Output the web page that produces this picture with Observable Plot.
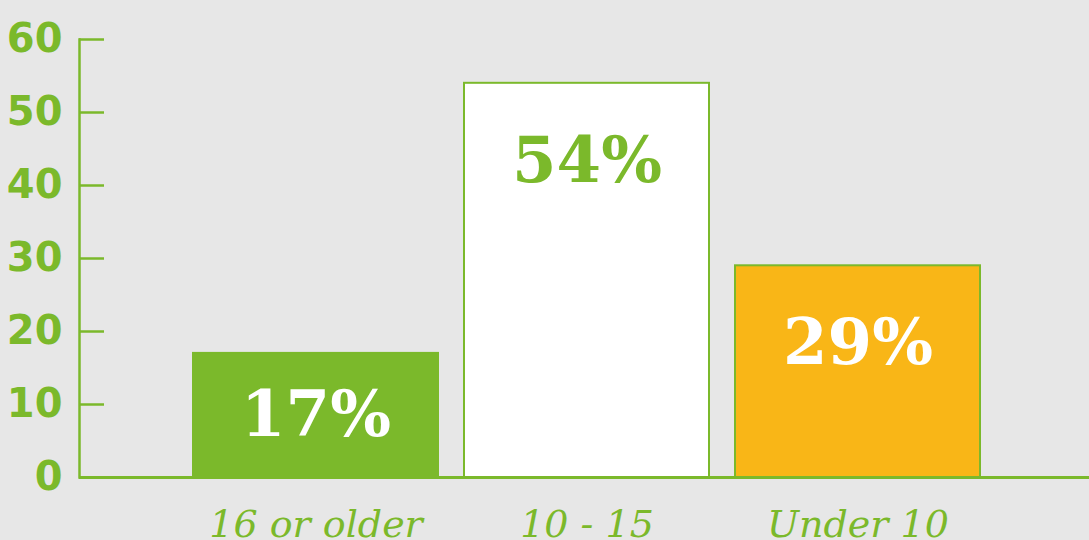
<!DOCTYPE html>
<html>
<head>
<meta charset="utf-8">
<script src="https://cdn.jsdelivr.net/npm/d3@7"></script>
<script src="https://cdn.jsdelivr.net/npm/@observablehq/plot@0.6"></script>
<style>
  html, body { margin: 0; padding: 0; background: #e7e7e7; overflow: hidden; }
  #chart { width: 1089px; height: 540px; }
</style>
</head>
<body>
<div id="chart"></div>
<script>
const categories = ["16 or older", "10 - 15", "Under 10"];
const values = [17, 54, 29];
const yTicks = [0, 10, 20, 30, 40, 50, 60];

const green = "#7bb92b";
const orange = "#f9b617";
const barFills = [green, "#ffffff", orange];

const data = categories.map((c, i) => ({cat: c, value: values[i]}));

const W = 1089, H = 540;
const mLeft = 79, mTop = 39, mBottom = 63;

const chart = Plot.plot({
  width: W,
  height: H,
  marginLeft: mLeft,
  marginRight: 0,
  marginTop: mTop,
  marginBottom: mBottom,
  style: {background: "#e7e7e7", fontFamily: "DejaVu Sans"},
  x: {domain: categories, range: [180, 993], paddingInner: 0.095, paddingOuter: 0.0475, label: null},
  y: {domain: [0, 60], label: null},
  color: {type: "ordinal", domain: categories, range: barFills},
  marks: [
    Plot.barY(data, {x: "cat", y: "value", fill: "cat", stroke: green, strokeWidth: 2}),
    Plot.frame({anchor: "left", stroke: green, strokeWidth: 2.5}),
    Plot.ruleY(yTicks.filter(t => t > 0), {stroke: green, strokeWidth: 2.5, insetRight: W - mLeft - 25}),
    Plot.ruleY([0], {stroke: green, strokeWidth: 3}),
    Plot.axisY({ticks: yTicks, tickSize: 0, tickPadding: 17, fill: green, fontSize: 40, fontWeight: "bold", label: null, tickFormat: d => String(d)}),
    Plot.axisX({tickSize: 0, tickPadding: 33, fill: green, fontSize: 38, fontStyle: "italic", fontFamily: "DejaVu Serif", fontStretch: "condensed", lineAnchor: "top", label: null}),
    Plot.text(data, {
      x: "cat",
      y: d => Math.max(d.value - 10.7, d.value / 2),
      text: d => d.value + "%",
      fill: d => d.cat === "10 - 15" ? green : "#ffffff",
      fontSize: 64,
      fontWeight: "bold",
      fontFamily: "DejaVu Serif",
      fontStretch: "condensed"
    })
  ]
});
document.getElementById("chart").appendChild(chart);
</script>
</body>
</html>
